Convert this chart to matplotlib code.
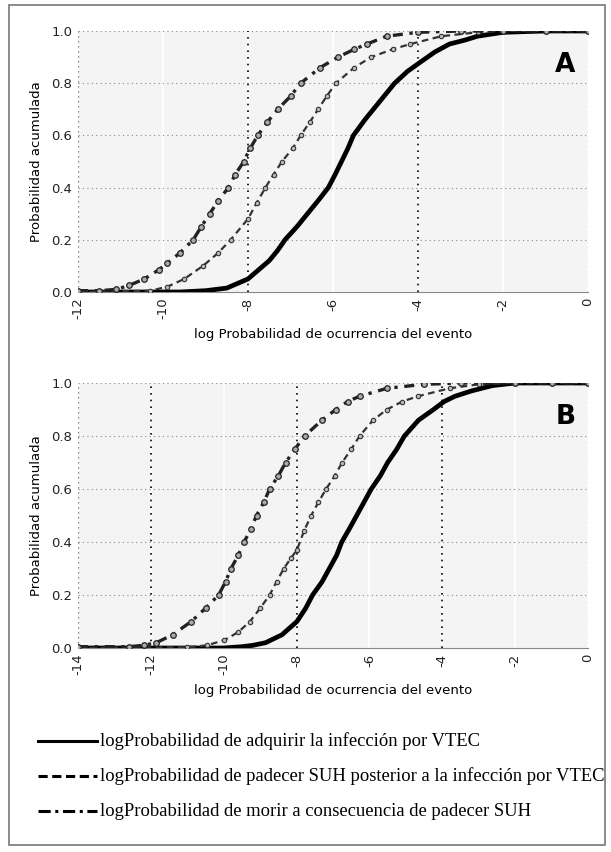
import matplotlib
matplotlib.use("Agg")
import matplotlib.pyplot as plt
from matplotlib.patches import Rectangle

# panel A: (log probability, cumulative probability)
a_inf_x = [-12, -9.6, -9.0, -8.5, -8.0, -7.75, -7.5, -7.3, -7.13, -6.85, -6.6, -6.35, -6.11, -5.95, -5.8, -5.65, -5.52,
           -5.25, -5.0, -4.75, -4.55, -4.25, -3.95, -3.6, -3.26, -2.9, -2.6, -2.0, -1.0, 0]
a_inf_y = [0.0, 0.0, 0.005, 0.015, 0.05, 0.085, 0.12, 0.16, 0.2, 0.25, 0.3, 0.35, 0.4, 0.45, 0.5, 0.55, 0.6,
           0.66, 0.71, 0.76, 0.8, 0.845, 0.88, 0.92, 0.95, 0.965, 0.98, 0.995, 1.0, 1.0]
a_suh_x = [-12, -10.3, -9.9, -9.5, -9.06, -8.7, -8.41, -8.0, -7.8, -7.59, -7.4, -7.2, -6.95, -6.76, -6.55, -6.35, -6.15,
           -5.93, -5.5, -5.1, -4.6, -4.18, -3.45, -2.6, -2.0, -1.0, 0]
a_suh_y = [0.0, 0.005, 0.02, 0.05, 0.1, 0.15, 0.2, 0.28, 0.34, 0.4, 0.45, 0.5, 0.55, 0.6, 0.65, 0.7, 0.75,
           0.8, 0.86, 0.9, 0.93, 0.95, 0.98, 0.995, 1.0, 1.0, 1.0]
a_die_x = [-12, -11.5, -11.1, -10.8, -10.44, -10.1, -9.9, -9.6, -9.29, -9.1, -8.9, -8.7, -8.46, -8.3, -8.1, -7.95, -7.77,
           -7.55, -7.3, -7.0, -6.76, -6.3, -5.88, -5.5, -5.2, -4.74, -4.0, -3.0, -2.0, -1.0, 0]
a_die_y = [0.005, 0.005, 0.01, 0.025, 0.05, 0.085, 0.11, 0.15, 0.2, 0.25, 0.3, 0.35, 0.4, 0.45, 0.5, 0.55, 0.6,
           0.65, 0.7, 0.75, 0.8, 0.86, 0.9, 0.93, 0.95, 0.98, 0.995, 1.0, 1.0, 1.0, 1.0]

# panel B
b_inf_x = [-14, -10.0, -9.5, -9.2, -8.85, -8.4, -7.99, -7.75, -7.56, -7.3, -7.1, -6.9, -6.76, -6.55, -6.35, -6.15, -5.95,
           -5.7, -5.5, -5.25, -5.04, -4.65, -4.24, -3.95, -3.65, -3.2, -2.63, -2.0, -1.0, 0]
b_inf_y = [0.0, 0.0, 0.005, 0.01, 0.02, 0.05, 0.1, 0.15, 0.2, 0.25, 0.3, 0.35, 0.4, 0.45, 0.5, 0.55, 0.6,
           0.65, 0.7, 0.75, 0.8, 0.86, 0.9, 0.93, 0.95, 0.97, 0.99, 1.0, 1.0, 1.0]
b_suh_x = [-14, -11.0, -10.46, -9.98, -9.6, -9.28, -9.0, -8.74, -8.55, -8.35, -8.15, -7.99, -7.8, -7.6, -7.4, -7.19,
           -6.95, -6.75, -6.5, -6.27, -5.9, -5.52, -5.1, -4.67, -3.8, -3.0, -2.0, -1.0, 0]
b_suh_y = [0.0, 0.003, 0.01, 0.03, 0.06, 0.1, 0.15, 0.2, 0.25, 0.3, 0.34, 0.37, 0.44, 0.5, 0.55, 0.6,
           0.65, 0.7, 0.75, 0.8, 0.86, 0.9, 0.93, 0.95, 0.98, 0.995, 1.0, 1.0, 1.0]
b_die_x = [-14, -12.6, -12.2, -11.85, -11.4, -10.89, -10.5, -10.14, -9.95, -9.8, -9.6, -9.44, -9.25, -9.1, -8.9, -8.74,
           -8.5, -8.3, -8.05, -7.78, -7.3, -6.92, -6.6, -6.27, -5.52, -4.5, -3.5, -2.0, -1.0, 0]
b_die_y = [0.005, 0.005, 0.01, 0.02, 0.05, 0.1, 0.15, 0.2, 0.25, 0.3, 0.35, 0.4, 0.45, 0.5, 0.55, 0.6,
           0.65, 0.7, 0.75, 0.8, 0.86, 0.9, 0.93, 0.95, 0.98, 0.995, 1.0, 1.0, 1.0, 1.0]

y_ticks = [0.0, 0.2, 0.4, 0.6, 0.8, 1.0]
labels = [
    "logProbabilidad de adquirir la infección por VTEC",
    "logProbabilidad de padecer SUH posterior a la infección por VTEC",
    "logProbabilidad de morir a consecuencia de padecer SUH",
]

fig = plt.figure(figsize=(6.11, 8.52), dpi=100)
fig.patches.append(Rectangle((9 / 611, 7 / 852), 596 / 611, 840 / 852, transform=fig.transFigure,
                             fill=False, edgecolor="#777777", linewidth=1.2))


def panel(rect, xmin, inf, suh, die, ref_lines, letter):
    ax = fig.add_axes(rect)
    ax.set_facecolor("#f4f4f4")
    ax.set_xlim(xmin, 0)
    ax.set_ylim(0, 1)
    xt = list(range(xmin, 1, 2))
    ax.set_xticks(xt)
    ax.set_xticklabels([str(v) for v in xt], rotation=90, fontsize=9.5)
    ax.set_yticks(y_ticks)
    ax.set_yticklabels(["%.1f" % v for v in y_ticks], fontsize=9.5)
    for v in xt:
        ax.axvline(v, color="white", lw=1.2, zorder=0.5)
    for v in y_ticks[1:]:
        ax.axhline(v, color="#888888", lw=0.8, ls=(0, (1, 3)), zorder=0.6)
    for v in ref_lines:
        ax.axvline(v, color="black", lw=1.2, ls=(0, (1, 3)), zorder=0.7)
    ax.axvline(0, color="#666666", lw=0.9, ls=(0, (1, 3)), zorder=0.7)
    ax.axvline(xmin, color="#666666", lw=0.9, ls=(0, (1, 3)), zorder=0.7)
    for s in ax.spines.values():
        s.set_visible(False)
    ax.spines["bottom"].set_visible(True)
    ax.spines["bottom"].set_color("#888888")
    ax.tick_params(length=0, pad=4, colors="#222222")

    ax.plot(inf[0], inf[1], color="black", lw=3.4, zorder=3)
    ax.plot(suh[0], suh[1], color="#333333", lw=1.6, ls=(0, (3, 2)), marker="o", ms=3.2,
            mfc="#bbbbbb", mec="#333333", mew=0.8, zorder=3)
    ax.plot(die[0], die[1], color="#222222", lw=2.4, ls=(0, (3, 2, 1, 2)), marker="o", ms=4,
            mfc="#aaaaaa", mec="#222222", mew=0.9, zorder=3)
    ax.text(0.975, 0.87, letter, transform=ax.transAxes, ha="right", va="center",
            fontsize=19, fontweight="bold")
    ax.set_xlabel("log Probabilidad de ocurrencia del evento", fontsize=9.5, labelpad=6)
    ax.set_ylabel("Probabilidad acumulada", fontsize=9.5, labelpad=6)
    return ax


panel([78 / 611, 1 - 292 / 852, 510 / 611, 261 / 852], -12,
      (a_inf_x, a_inf_y), (a_suh_x, a_suh_y), (a_die_x, a_die_y), [-8, -4], "A")
panel([78 / 611, 1 - 648 / 852, 510 / 611, 265 / 852], -14,
      (b_inf_x, b_inf_y), (b_suh_x, b_suh_y), (b_die_x, b_die_y), [-12, -8, -4], "B")

styles = [dict(ls="-", lw=2.2), dict(ls=(0, (3, 1.5)), lw=2.2), dict(ls=(0, (4, 1.5, 1, 1.5)), lw=2.2)]
for i, (lab, st) in enumerate(zip(labels, styles)):
    y = 1 - (741 + 35 * i) / 852
    fig.add_artist(plt.Line2D([38 / 611, 97 / 611], [y, y], color="black", transform=fig.transFigure, **st))
    fig.text(100 / 611, y, lab, fontsize=13.4, family="Liberation Serif", va="center", ha="left")

fig.savefig("out.png", dpi=100)
